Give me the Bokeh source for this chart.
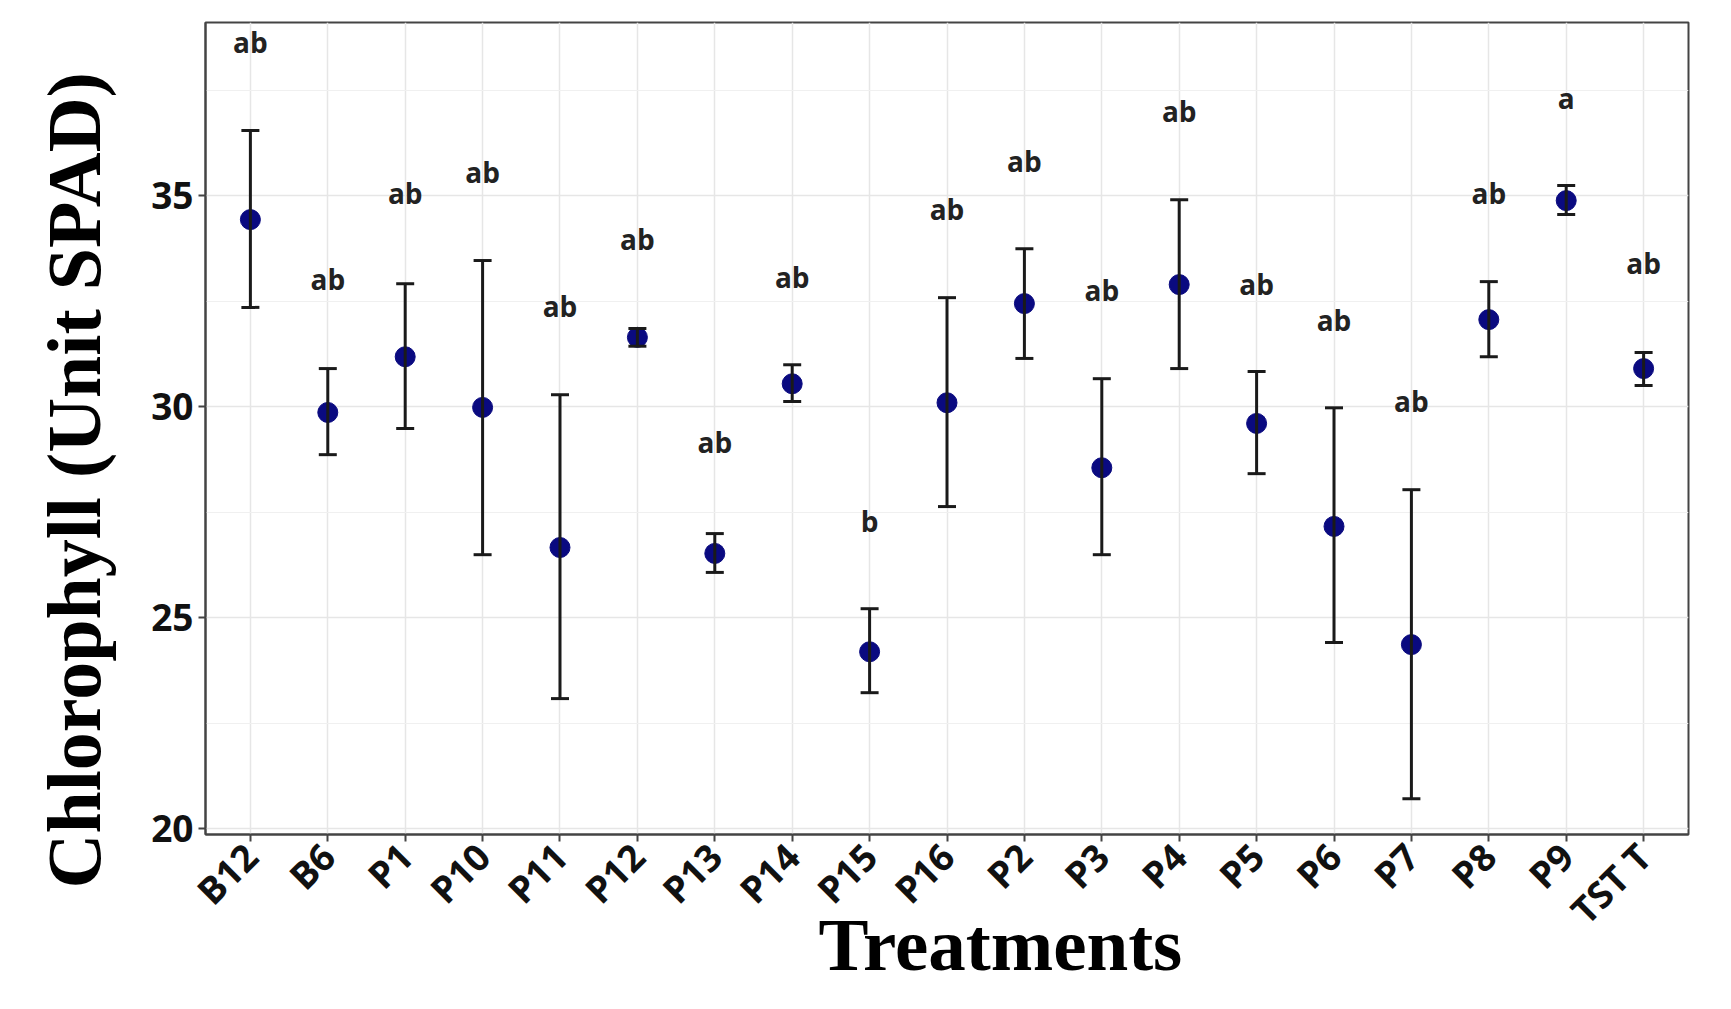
import math
from bokeh.plotting import figure
from bokeh.models import (ColumnDataSource, Range1d, FactorRange, Whisker, TeeHead,
                          FixedTicker, Title)
from bokeh.core.properties import value
from bokeh.embed import file_html
from bokeh.resources import INLINE

treatments = ["B12", "B6", "P1", "P10", "P11", "P12", "P13", "P14", "P15", "P16",
              "P2", "P3", "P4", "P5", "P6", "P7", "P8", "P9", "TST T"]
means = [34.43, 29.86, 31.18, 29.98, 26.66, 31.64, 26.52, 30.54, 24.19, 30.09,
         32.44, 28.55, 32.89, 29.60, 27.16, 24.36, 32.06, 34.88, 30.90]
upper = [36.54, 30.90, 32.91, 33.46, 30.28, 31.85, 26.99, 30.99, 25.21, 32.58,
         33.74, 30.66, 34.90, 30.83, 29.97, 28.03, 32.96, 35.24, 31.28]
lower = [32.35, 28.86, 29.48, 26.49, 23.08, 31.43, 26.07, 30.12, 23.22, 27.63,
         31.14, 26.49, 30.90, 28.41, 24.41, 20.71, 31.18, 34.55, 30.50]
letters = ["ab", "ab", "ab", "ab", "ab", "ab", "ab", "ab", "b", "ab",
           "ab", "ab", "ab", "ab", "ab", "ab", "ab", "a", "ab"]
letter_y = [38.63, 33.03, 35.05, 35.55, 32.39, 33.98, 29.15, 33.08, 27.30, 34.69,
            35.83, 32.77, 37.01, 32.91, 32.06, 30.14, 35.07, 37.30, 33.39]
y_ticks = [20, 25, 30, 35]
y_minor = [22.5, 27.5, 32.5, 37.5]
x_title = "Treatments"
y_title = "Chlorophyll (Unit SPAD)"

src = ColumnDataSource(dict(x=treatments, m=means, up=upper, lo=lower,
                            lab=letters, ly=letter_y))

p = figure(width=1715, height=993, output_backend="svg", toolbar_location=None,
           x_range=FactorRange(*treatments, range_padding=0.08, range_padding_units="absolute"),
           y_range=Range1d(19.86, 39.1),
           min_border_left=205, min_border_right=27, min_border_top=22, min_border_bottom=159)

p.background_fill_color = "white"
p.border_fill_color = "white"
p.outline_line_color = "#444444"
p.outline_line_width = 2

# grids
p.xgrid.grid_line_color = "#e6e6e6"
p.xgrid.grid_line_width = 1.5
p.ygrid.grid_line_color = "#e6e6e6"
p.ygrid.grid_line_width = 1.5
p.ygrid.minor_grid_line_color = "#f0f0f0"
p.ygrid.minor_grid_line_width = 1.2

p.yaxis.ticker = FixedTicker(ticks=y_ticks, minor_ticks=y_minor)

for ax in (p.xaxis[0], p.yaxis[0]):
    ax.axis_line_color = "#444444"
    ax.axis_line_width = 2
    ax.major_tick_line_color = "#444444"
    ax.major_tick_line_width = 2
    ax.major_tick_out = 7
    ax.major_tick_in = 0
    ax.minor_tick_line_color = None
    ax.major_label_text_font = "Open Sans"
    ax.major_label_text_font_style = "bold"
    ax.major_label_text_font_size = "37px"
    ax.major_label_text_color = "#111111"

p.yaxis.major_label_standoff = 5
p.xaxis.major_label_standoff = 8
p.xaxis.major_label_orientation = math.pi / 4

# error bars
w = Whisker(base="x", upper="up", lower="lo", source=src, level="overlay",
            line_color="#1a1a1a", line_width=3,
            upper_head=TeeHead(size=18, line_color="#1a1a1a", line_width=3),
            lower_head=TeeHead(size=18, line_color="#1a1a1a", line_width=3))

p.scatter("x", "m", source=src, size=20, fill_color="#0a0a80", line_color="#0a0a80")
p.add_layout(w)

p.text("x", "ly", text="lab", source=src, text_align="center", text_baseline="middle",
       text_font=value("Open Sans"), text_font_style="bold", text_font_size="28px",
       text_color="#222222")

# axis titles
yt = Title(text=y_title, align="left", offset=-54, vertical_align="top", standoff=61,
           text_font="Liberation Serif", text_font_style="bold", text_font_size="76px",
           text_color="black")
p.add_layout(yt, "left")
xt = Title(text=x_title, align="left", offset=613, vertical_align="top", standoff=-106,
           text_font="Liberation Serif", text_font_style="bold", text_font_size="75px",
           text_color="black")
p.add_layout(xt, "below")

open("out.html", "w").write(file_html(p, INLINE))
